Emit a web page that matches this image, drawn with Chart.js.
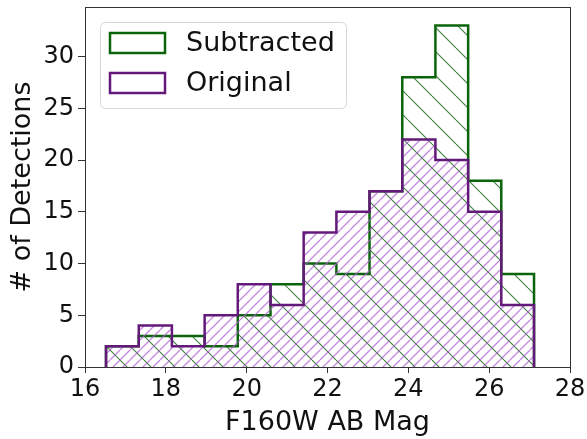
<!DOCTYPE html>
<html>
<head>
<meta charset="utf-8">
<script src="https://cdn.jsdelivr.net/npm/chart.js@4.4.1/dist/chart.umd.min.js"></script>
<style>
  html, body { margin: 0; padding: 0; background: #fff; }
  #wrap { width: 587px; height: 439px; }
</style>
</head>
<body>
<div id="wrap"><canvas id="hist" width="587" height="439"></canvas></div>
<script>
// bin edges (mag), 13 bins
const binEdges = [16.52, 17.33, 18.15, 18.96, 19.78, 20.59, 21.41, 22.22, 23.04, 23.85, 24.67, 25.48, 26.30, 27.11];
const subtracted = [2, 3, 3, 2, 5, 8, 10, 9, 17, 28, 33, 18, 9];
const original = [2, 4, 2, 5, 8, 6, 13, 15, 17, 22, 20, 15, 6];
const xTicks = [16, 18, 20, 22, 24, 26, 28];
const yTicks = [0, 5, 10, 15, 20, 25, 30];

const FONT = "'DejaVu Sans', sans-serif";
const GREEN = "#0b640b";
const PURPLE = "#63197a";

// step outline points for a histogram
function stepPoints(edges, counts) {
    let pts = [{ x: edges[0], y: 0 }];
    for (let i = 0; i < counts.length; i++) {
        pts.push({ x: edges[i], y: counts[i] });
    }
    pts.push({ x: edges[edges.length - 1], y: counts[counts.length - 1] });
    pts.push({ x: edges[edges.length - 1], y: 0 });
    return pts;
}

// diagonal hatch pattern, dir 1 = "/", -1 = "\"
function hatch(size, color, width, dir) {
    let c = document.createElement("canvas");
    c.width = size; c.height = size;
    let g = c.getContext("2d");
    g.strokeStyle = color;
    g.lineWidth = width;
    g.beginPath();
    for (let k = -1; k <= 1; k++) {
        if (dir > 0) {
            g.moveTo(k * size, size);
            g.lineTo(k * size + size, 0);
        } else {
            g.moveTo(k * size, 0);
            g.lineTo(k * size + size, size);
        }
    }
    g.stroke();
    return g.createPattern(c, "repeat");
}

const frame = {
    id: "frame",
    afterDatasetsDraw(chart) {
        const a = chart.chartArea, ctx = chart.ctx;
        ctx.save();
        ctx.strokeStyle = "#333";
        ctx.lineWidth = 1;
        ctx.strokeRect(Math.round(a.left) + 0.5, Math.round(a.top) + 0.5,
            Math.round(a.right - a.left), Math.round(a.bottom - a.top));
        ctx.restore();
    }
};

const boxLegend = {
    id: "boxLegend",
    afterDraw(chart) {
        const ctx = chart.ctx;
        ctx.save();
        ctx.beginPath();
        ctx.roundRect(100.5, 22.5, 246, 86, 5);
        ctx.fillStyle = "rgba(255,255,255,0.85)";
        ctx.fill();
        ctx.strokeStyle = "#d6d6d6";
        ctx.lineWidth = 1;
        ctx.stroke();
        const items = [
            { label: chart.data.datasets[0].label, color: GREEN, y: 43 },
            { label: chart.data.datasets[1].label, color: PURPLE, y: 83 }
        ];
        ctx.font = "27px " + FONT;
        ctx.textBaseline = "middle";
        items.forEach(it => {
            ctx.strokeStyle = it.color;
            ctx.lineWidth = 2.5;
            ctx.strokeRect(110, it.y - 10, 55, 20);
            ctx.fillStyle = "#111";
            ctx.fillText(it.label, 186, it.y + 1);
        });
        ctx.restore();
    }
};

new Chart(document.getElementById("hist"), {
    type: "line",
    data: {
        datasets: [
            {
                label: "Subtracted",
                data: stepPoints(binEdges, subtracted),
                borderColor: GREEN,
                borderWidth: 2.5,
                backgroundColor: hatch(24, "#3f7f3f", 1.1, -1),
                fill: "origin",
                stepped: "before",
                pointRadius: 0,
                order: 1
            },
            {
                label: "Original",
                data: stepPoints(binEdges, original),
                borderColor: PURPLE,
                borderWidth: 2.5,
                backgroundColor: hatch(10, "rgba(175, 95, 210, 0.75)", 1.3, 1),
                fill: "origin",
                stepped: "before",
                pointRadius: 0,
                order: 0
            }
        ]
    },
    options: {
        responsive: false,
        animation: false,
        layout: { padding: { top: 7, right: 17, left: 0, bottom: 0 } },
        plugins: {
            legend: { display: false },
            tooltip: { enabled: false }
        },
        scales: {
            x: {
                type: "linear",
                min: 16,
                max: 28,
                afterBuildTicks: s => { s.ticks = xTicks.map(v => ({ value: v })); },
                afterFit: s => { s.height = 72; s.paddingLeft = 0; s.paddingRight = 0; },
                grid: { drawOnChartArea: false, drawTicks: true, tickLength: 6, color: "#333" },
                border: { color: "#333" },
                ticks: { color: "#111", font: { family: FONT, size: 24 }, padding: 2, maxRotation: 0 },
                title: { display: true, text: "F160W AB Mag", color: "#111", font: { family: FONT, size: 27 }, padding: { top: 0, bottom: 0 } }
            },
            y: {
                min: 0,
                max: 34.8,
                afterBuildTicks: s => { s.ticks = yTicks.map(v => ({ value: v })); },
                afterFit: s => { s.width = 85; s.paddingTop = 0; s.paddingBottom = 0; },
                grid: { drawOnChartArea: false, drawTicks: true, tickLength: 7, color: "#333" },
                border: { color: "#333" },
                ticks: { color: "#111", font: { family: FONT, size: 24 }, padding: 4 },
                title: { display: true, text: "# of Detections", color: "#111", font: { family: FONT, size: 27 }, padding: { top: 7, bottom: 0 } }
            }
        }
    },
    plugins: [frame, boxLegend]
});
</script>
</body>
</html>
